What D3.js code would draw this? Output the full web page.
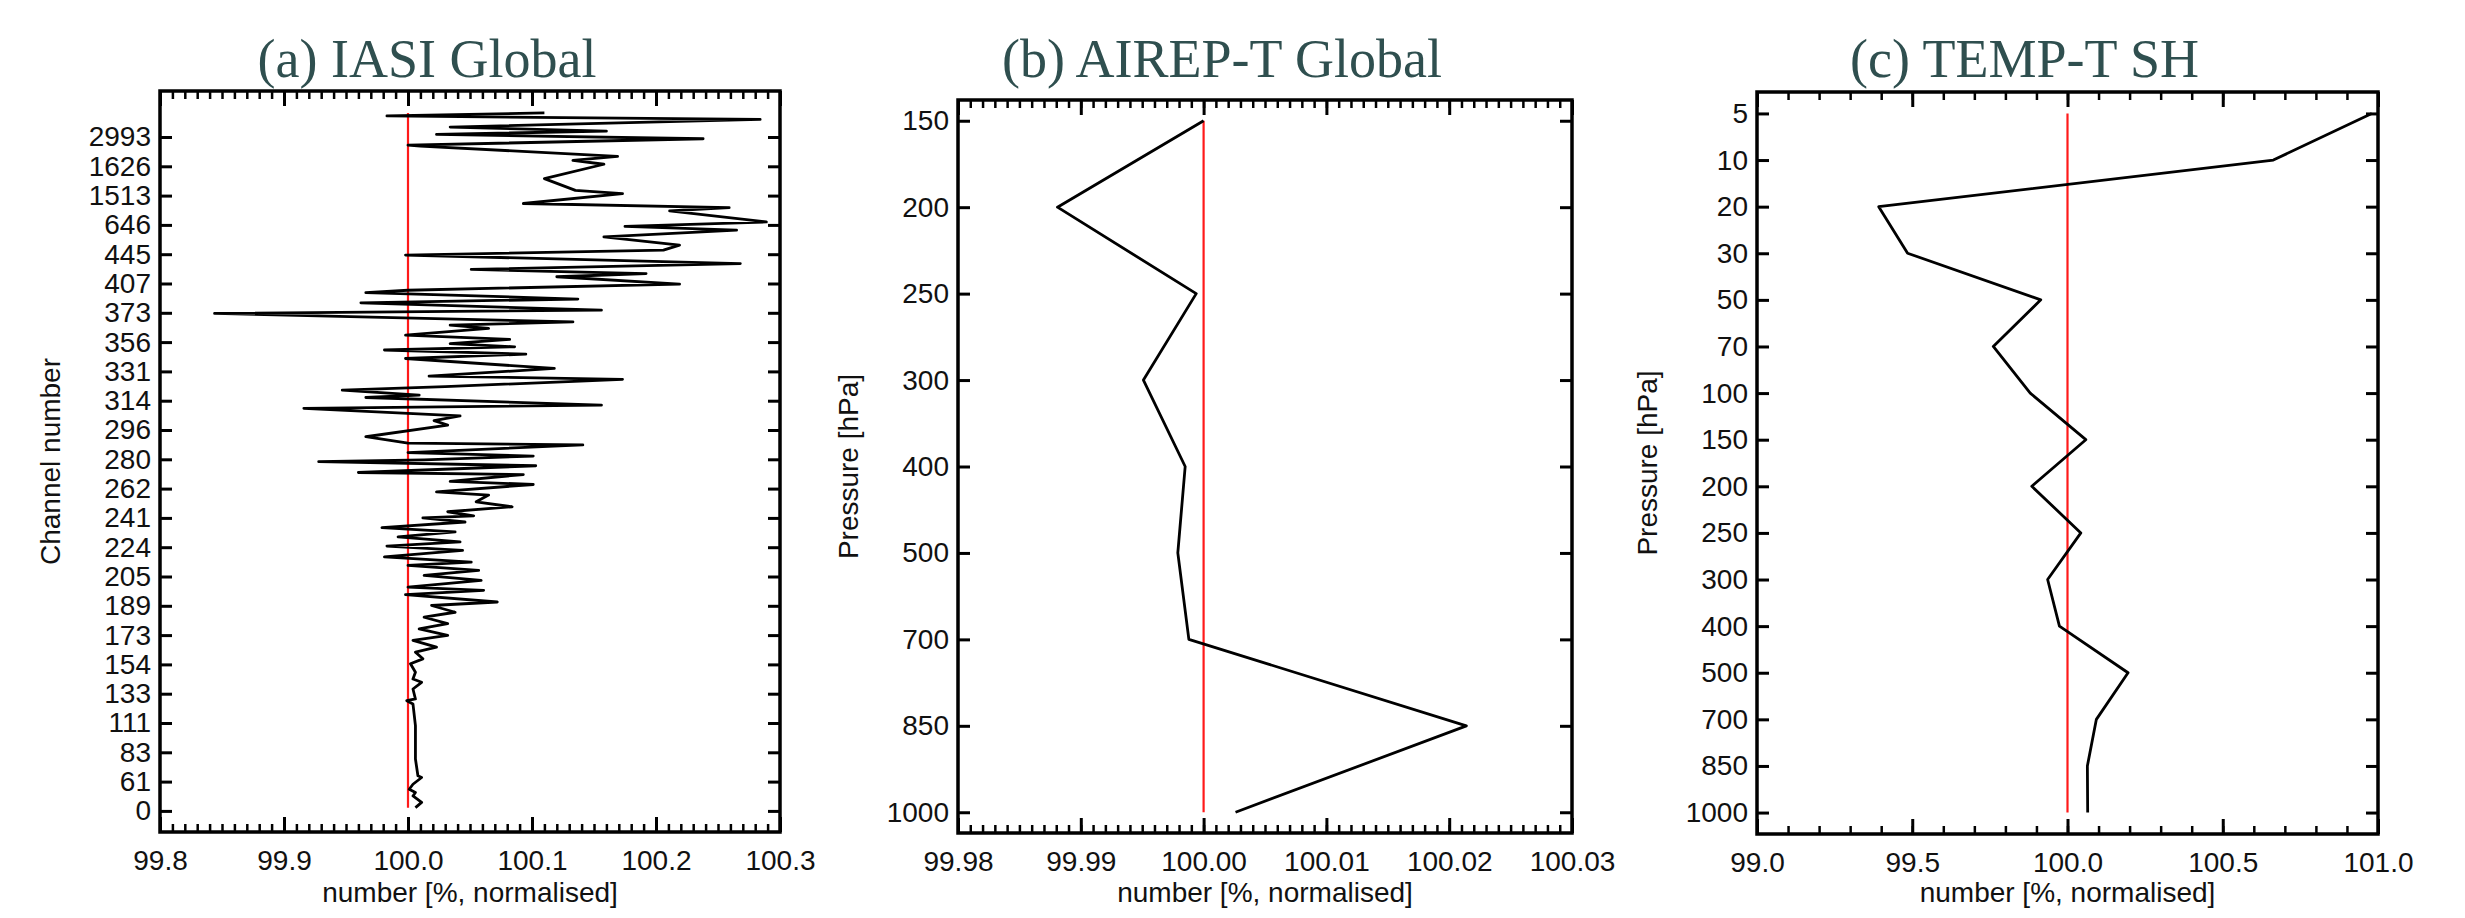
<!DOCTYPE html>
<html>
<head>
<meta charset="utf-8">
<script src="https://cdn.jsdelivr.net/npm/d3@7"></script>
<style>
  html, body { margin: 0; padding: 0; background: #fff; }
  svg { display: block; }
</style>
</head>
<body>
<svg id="chart" width="2465" height="918"></svg>
<script>
// ---------------- DATA ----------------
// (a) IASI Global : channel axis (positions 0..23 carry these labels)
const iasiChannels = ["0","61","83","111","133","154","173","189","205","224","241","262",
  "280","296","314","331","356","373","407","445","646","1513","1626","2993"];
// position along channel axis (in label-slot units) and normalised number [%]
const iasiPos = [23.82,23.72,23.60,23.34,23.20,23.09,22.94,22.72,22.69,22.34,22.20,22.07,21.58,21.18,21.07,
  20.73,20.59,20.48,20.10,19.95,19.82,19.59,19.31,19.14,18.97,18.68,18.48,18.34,18.23,17.98,17.77,17.69,
  17.47,17.34,17.09,16.98,16.69,16.58,16.47,16.24,16.09,15.95,15.84,15.73,15.59,15.44,15.10,14.84,14.73,
  14.48,14.36,14.19,14.11,13.85,13.74,13.48,13.32,13.17,12.77,12.55,12.49,12.23,12.11,11.98,11.92,11.78,
  11.55,11.48,11.25,11.14,10.89,10.78,10.55,10.38,10.21,10.07,10.00,9.86,9.67,9.52,9.35,9.18,9.04,8.89,
  8.67,8.49,8.38,8.21,8.04,7.87,7.64,7.53,7.38,7.13,7.01,6.78,6.61,6.39,6.21,5.99,5.82,5.59,5.42,5.19,
  5.02,4.73,4.50,4.39,4.16,3.82,3.76,3.65,2.91,1.77,1.20,1.14,0.91,0.74,0.63,0.51,0.29,0.11];
const iasiVal = [100.110,99.983,100.284,100.034,100.160,100.023,100.238,100.000,100.010,100.169,100.133,100.158,
  100.110,100.135,100.173,100.093,100.259,100.211,100.289,100.175,100.265,100.158,100.219,100.206,99.998,
  100.268,100.051,100.192,100.120,100.219,100.000,99.966,100.137,99.962,100.156,99.844,100.133,100.034,
  100.065,99.998,100.082,100.034,100.086,99.981,100.095,99.998,100.118,100.017,100.173,100.030,99.947,
  100.009,99.966,100.156,99.916,100.042,100.021,100.032,99.966,100.000,100.141,100.000,100.101,100.013,
  99.928,100.103,99.960,100.093,100.034,100.101,100.023,100.065,100.055,100.084,100.032,100.053,100.012,
  100.046,99.979,100.038,99.992,100.042,99.983,100.044,99.981,100.051,100.000,100.057,100.013,100.059,
  100.000,100.061,99.998,100.072,100.019,100.038,100.013,100.032,100.009,100.032,100.004,100.023,100.006,
  100.012,100.002,100.006,100.004,100.011,100.004,100.006,99.999,100.004,100.006,100.006,100.008,100.011,
  100.004,100.001,100.006,100.004,100.011,100.006];
const iasiXTicks = [99.8, 99.9, 100.0, 100.1, 100.2, 100.3];

// (b) AIREP-T Global
const airepLevels = ["150","200","250","300","400","500","700","850","1000"];
const airepVal = [100.0000, 99.9881, 99.9994, 99.9951, 99.9985, 99.9979, 99.9988, 100.0214, 100.0026];
const airepXTicks = [99.98, 99.99, 100.00, 100.01, 100.02, 100.03];

// (c) TEMP-T SH
const tempLevels = ["5","10","20","30","50","70","100","150","200","250","300","400","500","700","850","1000"];
const tempVal = [100.98, 100.663, 99.392, 99.485, 99.914, 99.761, 99.880, 100.059, 99.885, 100.043,
  99.936, 99.974, 100.195, 100.093, 100.064, 100.065];
const tempXTicks = [99.0, 99.5, 100.0, 100.5, 101.0];

const refValue = 100.0;
const titles = ["(a) IASI Global", "(b) AIREP-T Global", "(c) TEMP-T SH"];
const xTitle = "number [%, normalised]";
const yTitles = ["Channel number", "Pressure [hPa]", "Pressure [hPa]"];

// ---------------- DRAW ----------------
const svg = d3.select("#chart");
svg.append("rect").attr("width", 2465).attr("height", 918).attr("fill", "#fff");

const SANS = "'Liberation Sans', Arial, Helvetica, sans-serif";
const SERIF = "'Liberation Serif', 'Times New Roman', serif";

function styleAxis(sel, width) {
  sel.select(".domain").remove();
  sel.selectAll(".tick line").attr("stroke", "#000").attr("stroke-width", width);
  sel.selectAll("text").attr("font-family", SANS).attr("font-size", 28).attr("fill", "#111");
  sel.attr("font-family", null).attr("font-size", null);
}

function drawPanel(o) {
  const g = svg.append("g");
  const x = d3.scaleLinear().domain([o.xTicks[0], o.xTicks[o.xTicks.length - 1]]).range([o.left, o.right]);

  // minor x ticks
  const minors = d3.range(0, Math.round((o.xTicks[o.xTicks.length - 1] - o.xTicks[0]) / o.minorStep) + 1)
    .map(i => o.xTicks[0] + i * o.minorStep);

  g.append("g").attr("transform", `translate(0,${o.bottom})`)
    .call(d3.axisBottom(x).tickValues(minors).tickSizeInner(-8).tickSizeOuter(0).tickFormat(""))
    .call(s => styleAxis(s, 2.5));
  g.append("g").attr("transform", `translate(0,${o.top})`)
    .call(d3.axisTop(x).tickValues(minors).tickSizeInner(-8).tickSizeOuter(0).tickFormat(""))
    .call(s => styleAxis(s, 2.5));
  g.append("g").attr("transform", `translate(0,${o.bottom})`)
    .call(d3.axisBottom(x).tickValues(o.xTicks).tickSizeInner(-15).tickSizeOuter(0).tickPadding(18).tickFormat(d3.format(o.xFmt)))
    .call(s => styleAxis(s, 3));
  g.append("g").attr("transform", `translate(0,${o.top})`)
    .call(d3.axisTop(x).tickValues(o.xTicks).tickSizeInner(-15).tickSizeOuter(0).tickFormat(""))
    .call(s => styleAxis(s, 3));

  // y axes
  g.append("g").attr("transform", `translate(${o.left},0)`)
    .call(o.yAxisLeft.tickSizeInner(-12).tickSizeOuter(0).tickPadding(9))
    .call(s => styleAxis(s, 3));
  g.append("g").attr("transform", `translate(${o.right},0)`)
    .call(o.yAxisRight.tickSizeInner(-12).tickSizeOuter(0).tickFormat(""))
    .call(s => styleAxis(s, 3));

  // frame
  g.append("rect").attr("x", o.left).attr("y", o.top)
    .attr("width", o.right - o.left).attr("height", o.bottom - o.top)
    .attr("fill", "none").attr("stroke", "#000").attr("stroke-width", 3.5);

  // reference line
  g.append("path")
    .datum(o.refExtent)
    .attr("d", d3.line().x(() => x(refValue)).y(d => d))
    .attr("stroke", "#ff1a1a").attr("stroke-width", 2.2).attr("fill", "none");

  // data line
  g.append("path")
    .datum(o.points)
    .attr("d", d3.line().x(d => x(d.v)).y(d => o.yOf(d)))
    .attr("stroke", "#000").attr("stroke-width", o.lw).attr("fill", "none")
    .attr("stroke-linejoin", "round");

  // titles
  const cx = (o.left + o.right) / 2;
  g.append("text").attr("x", cx - 43).attr("y", 77).attr("text-anchor", "middle")
    .attr("font-family", SERIF).attr("font-size", 54).attr("fill", "#2f4f4f").text(o.title);
  g.append("text").attr("x", cx).attr("y", 902).attr("text-anchor", "middle")
    .attr("font-family", SANS).attr("font-size", 28).attr("fill", "#111").text(xTitle);
  const cy = (o.top + o.bottom) / 2;
  g.append("text").attr("transform", `translate(${o.left - 100},${cy}) rotate(-90)`)
    .attr("text-anchor", "middle")
    .attr("font-family", SANS).attr("font-size", 28).attr("fill", "#111").text(o.yTitle);
}

// (a)
{
  const top = 91, bottom = 832;
  const y = d3.scaleLinear().domain([-0.72, 24.57]).range([bottom, top]);
  const idx = d3.range(iasiChannels.length);
  drawPanel({
    left: 160, right: 780, top, bottom,
    xTicks: iasiXTicks, minorStep: 0.01, xFmt: ".1f",
    yAxisLeft: d3.axisLeft(y).tickValues(idx).tickFormat(i => iasiChannels[i]),
    yAxisRight: d3.axisRight(y).tickValues(idx),
    points: iasiPos.map((p, i) => ({ p, v: iasiVal[i] })),
    yOf: d => y(d.p),
    refExtent: [y(d3.min(iasiPos)), y(d3.max(iasiPos))],
    lw: 2.8, title: titles[0], yTitle: yTitles[0]
  });
}
// (b)
{
  const top = 100, bottom = 833;
  const y = d3.scalePoint().domain(airepLevels).range([top, bottom]).padding(0.24);
  drawPanel({
    left: 958, right: 1572, top, bottom,
    xTicks: airepXTicks, minorStep: 0.001, xFmt: ".2f",
    yAxisLeft: d3.axisLeft(y),
    yAxisRight: d3.axisRight(y),
    points: airepLevels.map((l, i) => ({ l, v: airepVal[i] })),
    yOf: d => y(d.l),
    refExtent: [y(airepLevels[0]), y(airepLevels[airepLevels.length - 1])],
    lw: 2.8, title: titles[1], yTitle: yTitles[1]
  });
}
// (c)
{
  const top = 92, bottom = 834;
  const y = d3.scalePoint().domain(tempLevels).range([top, bottom]).padding(0.46);
  drawPanel({
    left: 1757, right: 2378, top, bottom,
    xTicks: tempXTicks, minorStep: 0.1, xFmt: ".1f",
    yAxisLeft: d3.axisLeft(y),
    yAxisRight: d3.axisRight(y),
    points: tempLevels.map((l, i) => ({ l, v: tempVal[i] })),
    yOf: d => y(d.l),
    refExtent: [y(tempLevels[0]), y(tempLevels[tempLevels.length - 1])],
    lw: 2.8, title: titles[2], yTitle: yTitles[2]
  });
}
</script>
</body>
</html>
